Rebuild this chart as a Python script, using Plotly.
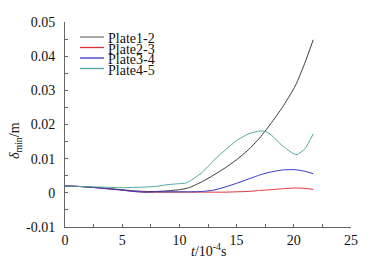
import plotly.graph_objects as go

# ---- data ----
t = [0, 1, 2, 3, 4, 5, 6, 7, 8, 9, 10, 10.6, 11, 12, 13, 14, 15, 16, 17, 17.5, 18, 19, 20, 20.3, 21, 21.7]
plate12 = [0.0020, 0.0019, 0.0017, 0.0015, 0.0012, 0.0009, 0.0006, 0.0004, 0.0004, 0.0006, 0.0009, 0.0013, 0.0017,
           0.0033, 0.0052, 0.0073, 0.0097, 0.0125, 0.0160, 0.0181, 0.0203, 0.0250, 0.0305, 0.0325, 0.0383, 0.0448]
plate23 = [0.0020, 0.0019, 0.0017, 0.0014, 0.0011, 0.0008, 0.0004, 0.0002, 0.0002, 0.0002, 0.0002, 0.0002, 0.0002,
           0.0002, 0.0002, 0.0002, 0.0003, 0.0004, 0.0007, 0.0008, 0.0009, 0.0012, 0.0014, 0.0014, 0.0013, 0.0010]
plate34 = [0.0020, 0.0019, 0.0017, 0.0014, 0.0011, 0.0008, 0.0004, 0.0002, 0.0003, 0.0003, 0.0003, 0.0003, 0.0003,
           0.0004, 0.0008, 0.0017, 0.0028, 0.0040, 0.0052, 0.0057, 0.0061, 0.0067, 0.0068, 0.0067, 0.0063, 0.0056]
plate45 = [0.0020, 0.0019, 0.0018, 0.0017, 0.0016, 0.0015, 0.0016, 0.0017, 0.0019, 0.0024, 0.0027, 0.0029, 0.0036,
           0.0060, 0.0095, 0.0125, 0.0153, 0.0172, 0.0181, 0.0180, 0.0170, 0.0138, 0.0114, 0.0112, 0.0130, 0.0173]

series_names = ["Plate1-2", "Plate2-3", "Plate3-4", "Plate4-5"]
series_values = [plate12, plate23, plate34, plate45]
series_colors = ["#3a3a3a", "#e0303a", "#3434c4", "#4fa8a0"]
legend_colors = ["#7a7a7a", "#e0303a", "#3434c4", "#4fa8a0"]

x_tick_vals = [0, 5, 10, 15, 20, 25]
x_tick_labels = ["0", "5", "10", "15", "20", "25"]
y_tick_vals = [-0.01, 0, 0.01, 0.02, 0.03, 0.04, 0.05]
y_tick_labels = ["-0.01", "0", "0.01", "0.02", "0.03", "0.04", "0.05"]

FONT = "Liberation Serif"

# page has an 8px body margin: the figure origin sits at (8, 8) on the page
OFF = 8
W, H = 372 - OFF, 266 - OFF
# plot area in page pixels
L, R, T, B = 65, 351, 22, 227
pw, ph = R - L, B - T
def px2x(px):
    return (px - L) / pw
def px2y(py):
    return (B - py) / ph

fig = go.Figure()
for name, vals, col in zip(series_names, series_values, series_colors):
    fig.add_trace(go.Scatter(x=t, y=vals, mode="lines", name=name,
                             line=dict(color=col, width=1, shape="spline", smoothing=0.5),
                             showlegend=False))

# manual compact legend (paper coords)
row_y = [37, 47.5, 58, 68.5]
for name, col, ry in zip(series_names, legend_colors, row_y):
    fig.add_shape(type="line", xref="paper", yref="paper",
                  x0=px2x(80), x1=px2x(104), y0=px2y(ry), y1=px2y(ry),
                  line=dict(color=col, width=1.3))
    fig.add_annotation(xref="paper", yref="paper", x=px2x(107), y=px2y(ry + 1.5),
                       text=name, showarrow=False, xanchor="left", yanchor="middle",
                       borderpad=0,
                       font=dict(family=FONT, size=14, color="#111"))

# axis titles
fig.add_annotation(xref="paper", yref="paper", x=0.5, y=px2y(250),
                   text="<i>t</i>/10<sup>-4</sup>s", showarrow=False,
                   xanchor="center", yanchor="middle",
                   font=dict(family=FONT, size=14, color="#111"))
fig.add_annotation(xref="paper", yref="paper", x=px2x(15), y=px2y(141),
                   text="<i>δ</i><sub>min</sub>/m", showarrow=False, textangle=-90,
                   xanchor="center", yanchor="middle", borderpad=0,
                   font=dict(family=FONT, size=14, color="#111"))

fig.update_layout(
    width=W, height=H,
    margin=dict(l=L - OFF, r=W - (R - OFF), t=T - OFF, b=H - (B - OFF), autoexpand=False),
    paper_bgcolor="white", plot_bgcolor="white",
    font=dict(family=FONT, size=13, color="#111"),
    showlegend=False,
)
fig.update_xaxes(range=[0, 25], tickvals=x_tick_vals, ticktext=x_tick_labels, automargin=False,
                 showline=True, linecolor="#666", linewidth=1, showgrid=False, zeroline=False,
                 ticks="inside", ticklen=3, tickcolor="#666",
                 minor=dict(ticks="inside", ticklen=3, dtick=2.5, tickcolor="#666", showgrid=False),
                 tickfont=dict(family=FONT, size=14, color="#111"))
fig.update_yaxes(range=[-0.01, 0.05], tickvals=y_tick_vals, ticktext=y_tick_labels, automargin=False,
                 showline=True, linecolor="#666", linewidth=1, showgrid=False, zeroline=False,
                 ticks="inside", ticklen=3, tickcolor="#666",
                 minor=dict(ticks="inside", ticklen=3, dtick=0.005, tickcolor="#666", showgrid=False),
                 tickfont=dict(family=FONT, size=14, color="#111"), ticklabelstandoff=6)

fig.write_html("out.html")
